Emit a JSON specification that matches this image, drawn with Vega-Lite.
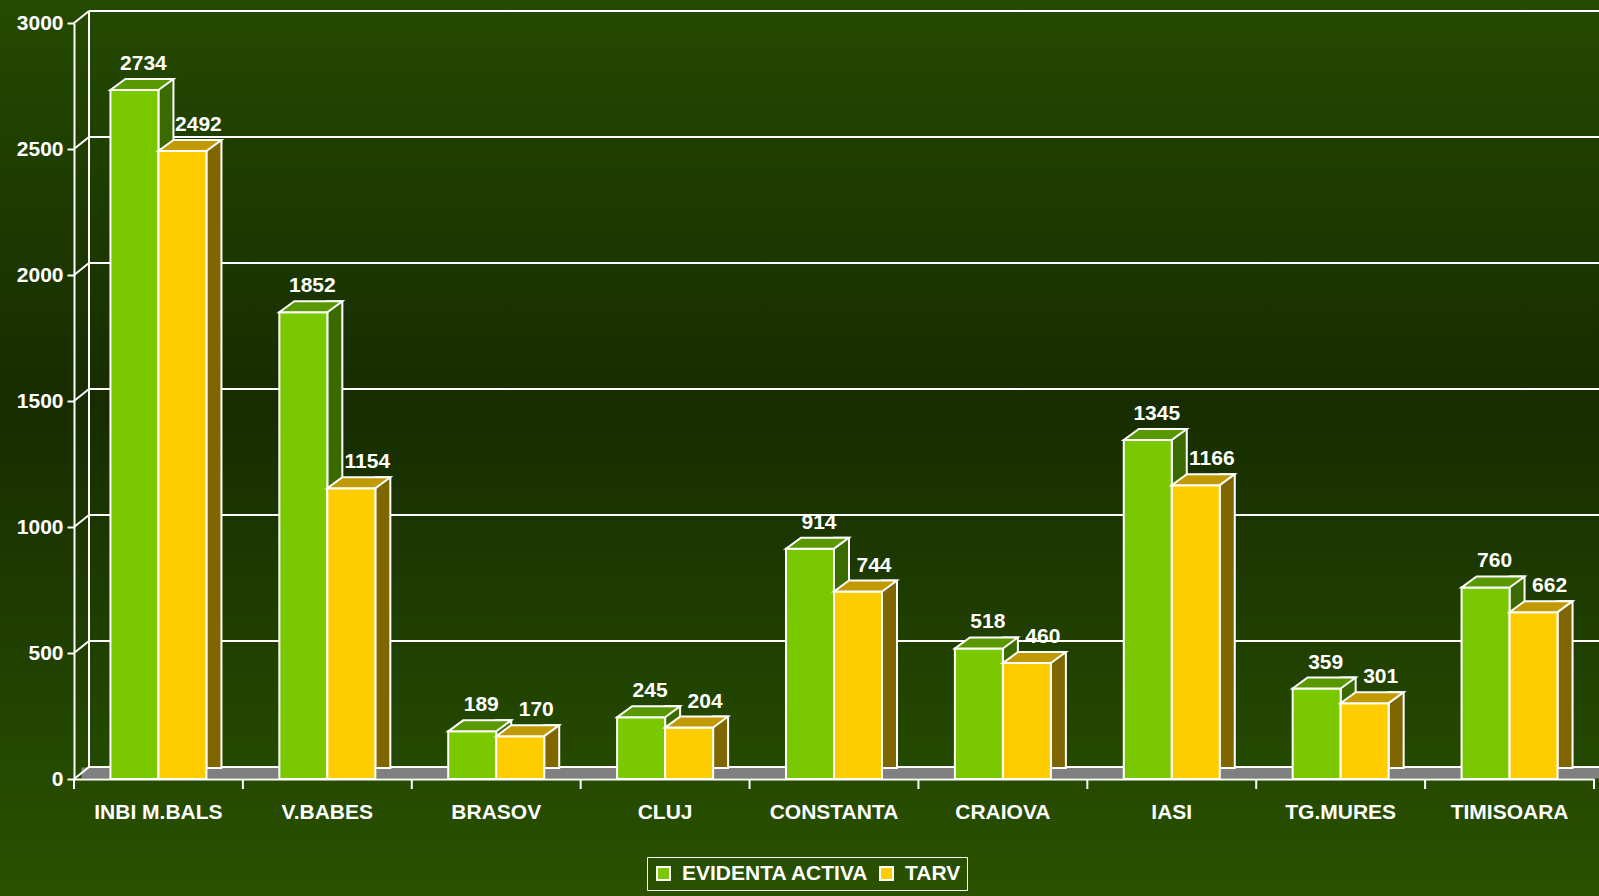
{
  "$schema": "https://vega.github.io/schema/vega-lite/v6.json",
  "width": 1599,
  "height": 896,
  "autosize": {"type": "none"},
  "padding": 0,
  "background": "#2a5000",
  "view": {
    "stroke": null,
    "fill": {
      "gradient": "linear", "x1": 0, "y1": 0, "x2": 0, "y2": 1,
      "stops": [
        {"offset": 0, "color": "#254a00"},
        {"offset": 0.1, "color": "#214300"},
        {"offset": 0.45, "color": "#172c00"},
        {"offset": 0.85, "color": "#244900"},
        {"offset": 1, "color": "#2a5000"}
      ]
    }
  },
  "config": {"font": "Liberation Sans"},
  "datasets": {
    "bars": [
      {"cat": "INBI M.BALS", "series": "EVIDENTA ACTIVA", "value": 2734},
      {"cat": "INBI M.BALS", "series": "TARV", "value": 2492},
      {"cat": "V.BABES", "series": "EVIDENTA ACTIVA", "value": 1852},
      {"cat": "V.BABES", "series": "TARV", "value": 1154},
      {"cat": "BRASOV", "series": "EVIDENTA ACTIVA", "value": 189},
      {"cat": "BRASOV", "series": "TARV", "value": 170},
      {"cat": "CLUJ", "series": "EVIDENTA ACTIVA", "value": 245},
      {"cat": "CLUJ", "series": "TARV", "value": 204},
      {"cat": "CONSTANTA", "series": "EVIDENTA ACTIVA", "value": 914},
      {"cat": "CONSTANTA", "series": "TARV", "value": 744},
      {"cat": "CRAIOVA", "series": "EVIDENTA ACTIVA", "value": 518},
      {"cat": "CRAIOVA", "series": "TARV", "value": 460},
      {"cat": "IASI", "series": "EVIDENTA ACTIVA", "value": 1345},
      {"cat": "IASI", "series": "TARV", "value": 1166},
      {"cat": "TG.MURES", "series": "EVIDENTA ACTIVA", "value": 359},
      {"cat": "TG.MURES", "series": "TARV", "value": 301},
      {"cat": "TIMISOARA", "series": "EVIDENTA ACTIVA", "value": 760},
      {"cat": "TIMISOARA", "series": "TARV", "value": 662}
    ],
    "grid": [{"v": 0}, {"v": 500}, {"v": 1000}, {"v": 1500}, {"v": 2000}, {"v": 2500}, {"v": 3000}],
    "cats": [
      {"cat": "INBI M.BALS"}, {"cat": "V.BABES"}, {"cat": "BRASOV"}, {"cat": "CLUJ"}, {"cat": "CONSTANTA"},
      {"cat": "CRAIOVA"}, {"cat": "IASI"}, {"cat": "TG.MURES"}, {"cat": "TIMISOARA"}
    ]
  },
  "layer": [
    {
      "data": {"values": [{"v": 0}]},
      "mark": {"type": "rule", "color": "#808080", "strokeWidth": 11, "yOffset": -6, "xOffset": 7.5, "x2Offset": 7.5},
      "encoding": {
        "x": {"datum": "INBI M.BALS", "type": "nominal", "bandPosition": 0,
              "scale": {"type": "band", "paddingInner": 0, "paddingOuter": 0, "range": [74, 1594], "domain": ["INBI M.BALS", "V.BABES", "BRASOV", "CLUJ", "CONSTANTA", "CRAIOVA", "IASI", "TG.MURES", "TIMISOARA"]}},
        "x2": {"datum": "TIMISOARA", "bandPosition": 1},
        "y": {"field": "v", "type": "quantitative", "scale": {"domain": [0, 3000], "nice": false, "range": [779, 23]}}
      }
    },
    {
      "data": {"name": "grid"},
      "mark": {"type": "rule", "color": "white", "strokeWidth": 2, "yOffset": -12, "xOffset": 15, "x2Offset": 15},
      "encoding": {
        "x": {"datum": "INBI M.BALS", "type": "nominal", "bandPosition": 0},
        "x2": {"datum": "TIMISOARA", "bandPosition": 1},
        "y": {"field": "v", "type": "quantitative"}
      }
    },
    {
      "data": {"values": [{"cat": "INBI M.BALS"}]},
      "mark": {"type": "rule", "color": "white", "strokeWidth": 2, "xOffset": 15, "yOffset": -12, "y2Offset": -12},
      "encoding": {
        "x": {"field": "cat", "type": "nominal", "bandPosition": 0, "sort": null},
        "y": {"datum": 0, "type": "quantitative"},
        "y2": {"datum": 3000}
      }
    },
    {
      "data": {"name": "grid"},
      "mark": {"type": "point", "shape": "M0,0L0.3,-0.24", "size": 10000, "filled": false, "stroke": "white", "strokeWidth": 2, "opacity": 1},
      "encoding": {
        "x": {"datum": "INBI M.BALS", "type": "nominal", "bandPosition": 0},
        "y": {"field": "v", "type": "quantitative"}
      }
    },
    {
      "data": {"name": "cats"},
      "mark": {"type": "rule", "color": "white", "strokeWidth": 2, "y2Offset": 10},
      "encoding": {
        "x": {"field": "cat", "type": "nominal", "bandPosition": 0, "sort": null},
        "y": {"datum": 0, "type": "quantitative"},
        "y2": {"datum": 0}
      }
    },
    {
      "data": {"values": [{"cat": "TIMISOARA"}]},
      "mark": {"type": "rule", "color": "white", "strokeWidth": 2, "y2Offset": 10},
      "encoding": {
        "x": {"field": "cat", "type": "nominal", "bandPosition": 1, "sort": null},
        "y": {"datum": 0, "type": "quantitative"},
        "y2": {"datum": 0}
      }
    },
    {
      "data": {"name": "bars"},
      "transform": [{"filter": "datum.series === 'EVIDENTA ACTIVA'"}],
      "mark": {"type": "bar", "width": 15, "xOffset": 7.5, "yOffset": -11, "y2Offset": -11, "fill": "#3a6a00", "stroke": "white", "strokeWidth": 2},
      "encoding": {
        "x": {"field": "cat", "type": "nominal", "sort": null},
        "y": {"field": "value", "type": "quantitative"}
      }
    },
    {
      "data": {"name": "bars"},
      "transform": [{"filter": "datum.series === 'EVIDENTA ACTIVA'"}],
      "mark": {"type": "bar", "width": 48, "xOffset": -24, "stroke": "white", "strokeWidth": 2, "opacity": 1},
      "encoding": {
        "x": {"field": "cat", "type": "nominal", "sort": null,
              "axis": {"title": null, "labelAngle": 0, "ticks": false, "domain": true, "domainColor": "white", "domainWidth": 2,
                       "bandPosition": 0.5, "labelAlign": "center", "labelFlush": false, "labelBound": false, "labelOverlap": false,
                       "labels": true, "labelPadding": 33, "labelColor": "white", "labelFont": "Liberation Sans", "labelFontWeight": "bold",
                       "labelFontSize": 21, "offset": -117, "zindex": 1, "labelLimit": 300, "grid": false}},
        "y": {"field": "value", "type": "quantitative",
              "axis": {"title": null, "values": [0, 500, 1000, 1500, 2000, 2500, 3000], "format": "d", "grid": false, "domainColor": "white", "domainWidth": 2,
                       "tickColor": "white", "tickWidth": 2, "tickSize": 7, "labelPadding": 4, "labels": true, "labelColor": "white",
                       "labelFont": "Liberation Sans", "labelFontWeight": "bold", "labelFontSize": 21, "offset": -74, "zindex": 1}},
        "color": {"field": "series", "type": "nominal",
                  "scale": {"domain": ["EVIDENTA ACTIVA", "TARV"], "range": ["#7ac800", "#ffcc00"]},
                  "legend": {"orient": "none", "legendX": 647, "legendY": 857, "direction": "horizontal", "title": null,
                             "strokeColor": "white", "padding": 6, "symbolType": "square", "symbolSize": 169,
                             "symbolStrokeColor": "white", "symbolStrokeWidth": 2, "symbolOpacity": 1, "labelLimit": 400,
                             "labelColor": "white", "labelFontSize": 21, "labelFont": "Liberation Sans", "labelFontWeight": "bold",
                             "columnPadding": 6, "labelOffset": 8}}
      }
    },
    {
      "data": {"name": "bars"},
      "transform": [{"filter": "datum.series === 'EVIDENTA ACTIVA'"}],
      "mark": {"type": "point", "shape": "M-0.96,0L0,0L0.3,-0.22L-0.66,-0.22Z", "size": 10000, "filled": true, "fill": "#5a9800", "stroke": "white", "strokeWidth": 2, "opacity": 1},
      "encoding": {
        "x": {"field": "cat", "type": "nominal", "sort": null},
        "y": {"field": "value", "type": "quantitative"}
      }
    },
    {
      "data": {"name": "bars"},
      "transform": [{"filter": "datum.series === 'TARV'"}],
      "mark": {"type": "bar", "width": 15, "xOffset": 55.5, "yOffset": -11, "y2Offset": -11, "fill": "#806600", "stroke": "white", "strokeWidth": 2},
      "encoding": {
        "x": {"field": "cat", "type": "nominal", "sort": null},
        "y": {"field": "value", "type": "quantitative"}
      }
    },
    {
      "data": {"name": "bars"},
      "transform": [{"filter": "datum.series === 'TARV'"}],
      "mark": {"type": "bar", "width": 48, "xOffset": 24, "stroke": "white", "strokeWidth": 2, "opacity": 1},
      "encoding": {
        "x": {"field": "cat", "type": "nominal", "sort": null},
        "y": {"field": "value", "type": "quantitative"},
        "color": {"field": "series", "type": "nominal"}
      }
    },
    {
      "data": {"name": "bars"},
      "transform": [{"filter": "datum.series === 'TARV'"}],
      "mark": {"type": "point", "shape": "M0,0L0.96,0L1.26,-0.22L0.3,-0.22Z", "size": 10000, "filled": true, "fill": "#c09a00", "stroke": "white", "strokeWidth": 2, "opacity": 1},
      "encoding": {
        "x": {"field": "cat", "type": "nominal", "sort": null},
        "y": {"field": "value", "type": "quantitative"}
      }
    },
    {
      "data": {"name": "bars"},
      "transform": [{"filter": "datum.series === 'EVIDENTA ACTIVA'"}],
      "mark": {"type": "text", "xOffset": -15, "yOffset": -20, "baseline": "alphabetic", "align": "center", "color": "white", "font": "Liberation Sans", "fontWeight": "bold", "fontSize": 21},
      "encoding": {
        "x": {"field": "cat", "type": "nominal", "sort": null},
        "y": {"field": "value", "type": "quantitative"},
        "text": {"field": "value", "type": "quantitative"}
      }
    },
    {
      "data": {"name": "bars"},
      "transform": [{"filter": "datum.series === 'TARV'"}],
      "mark": {"type": "text", "xOffset": 40, "yOffset": -20, "baseline": "alphabetic", "align": "center", "color": "white", "font": "Liberation Sans", "fontWeight": "bold", "fontSize": 21},
      "encoding": {
        "x": {"field": "cat", "type": "nominal", "sort": null},
        "y": {"field": "value", "type": "quantitative"},
        "text": {"field": "value", "type": "quantitative"}
      }
    }
  ]
}
